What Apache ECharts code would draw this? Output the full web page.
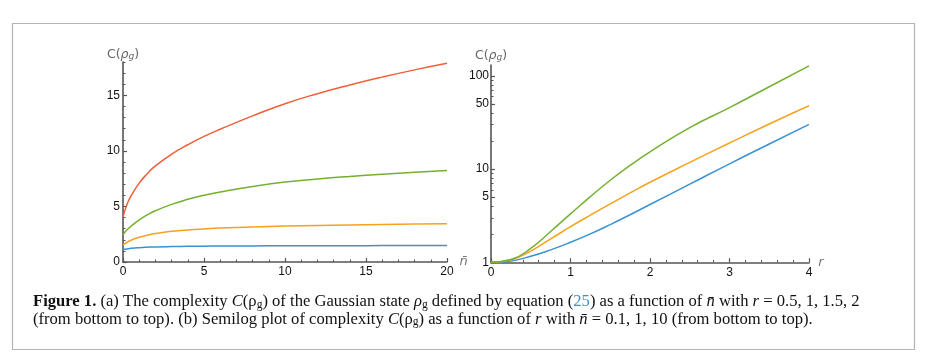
<!DOCTYPE html>
<html>
<head>
<meta charset="utf-8">
<script src="https://cdn.jsdelivr.net/npm/echarts@6/dist/echarts.min.js"></script>
<style>
html,body{margin:0;padding:0;background:#fff;}
#chart{width:929px;height:360px;}
</style>
</head>
<body>
<div id="chart"></div>
<script>
// ---- Panel (a): C vs n-bar, r = 0.5, 1, 1.5, 2 ----
const nbar = [0, 0.25, 0.5, 1, 1.5, 2, 3, 4, 5, 6, 8, 10, 12, 14, 16, 18, 20];
const a_r05 = [1.12, 1.18, 1.23, 1.29, 1.33, 1.36, 1.39, 1.41, 1.425, 1.435, 1.45, 1.46, 1.466, 1.47, 1.474, 1.477, 1.48];
const a_r10 = [1.55, 1.78, 1.96, 2.22, 2.41, 2.56, 2.76, 2.89, 2.98, 3.05, 3.15, 3.23, 3.29, 3.34, 3.38, 3.41, 3.44];
const a_r15 = [2.45, 2.9, 3.22, 3.8, 4.24, 4.61, 5.19, 5.64, 6.0, 6.3, 6.8, 7.2, 7.47, 7.7, 7.9, 8.07, 8.23];
const a_r20 = [4.05, 5.2, 5.95, 7.1, 7.95, 8.65, 9.7, 10.55, 11.3, 11.95, 13.15, 14.25, 15.15, 15.93, 16.64, 17.29, 17.88];
const a_xTicks = [0, 5, 10, 15, 20];
const a_yTicks = [0, 5, 10, 15];

// ---- Panel (b): C vs r (semilog), n-bar = 0.1, 1, 10 ----
const rVals = [0, 0.25, 0.5, 0.75, 1, 1.25, 1.5, 1.75, 2, 2.5, 3, 3.5, 4];
const b_n01 = [1.0, 1.035, 1.16, 1.36, 1.64, 2.02, 2.54, 3.24, 4.17, 6.89, 11.4, 18.6, 30.2];
const b_n1  = [1.0, 1.06, 1.32, 1.78, 2.41, 3.21, 4.24, 5.55, 7.23, 11.8, 19.05, 30.5, 47.8];
const b_n10 = [1.0, 1.07, 1.41, 2.14, 3.31, 5.07, 7.59, 10.96, 15.3, 27.9, 45.7, 76.6, 128];
const b_xTicks = [0, 1, 2, 3, 4];
const b_yTicks = [1, 5, 10, 50, 100];
const b_yMinor = [2, 3, 4, 6, 7, 8, 9, 20, 30, 40, 60, 70, 80, 90];

const COL = {blue:'#3a92d2', orange:'#f5a21e', green:'#74b12f', red:'#ee5f3a'};
const AX = '#555555';
const LBL = {color:'#111', fontFamily:'Liberation Sans, Arial, sans-serif', fontSize:12};
const nameRich = {
  a:{fontFamily:'DejaVu Sans, sans-serif', fontSize:12.5, color:'#666'},
  p:{fontFamily:'DejaVu Sans, sans-serif', fontSize:12.5, color:'#666', fontStyle:'italic'},
  s:{fontFamily:'DejaVu Sans, sans-serif', fontSize:9, color:'#666', fontStyle:'italic', verticalAlign:'bottom', lineHeight:10}
};
const cName = '{a|C(}{p|ρ}{s|g}{a|)}';

function zip(xs, ys){ return xs.map((x,i)=>[x, ys[i]]); }
function line(data, color, xi, yi){
  return {type:'line', data, xAxisIndex:xi, yAxisIndex:yi, showSymbol:false, smooth:0.5,
    lineStyle:{color, width:1.5}, itemStyle:{color}, animation:false, z:2};
}

const chart = echarts.init(document.getElementById('chart'), null, {renderer:'canvas'});
const option = {
  animation:false,
  backgroundColor:'#fff',
  grid:[
    {left:123, top:62, width:324, height:200},
    {left:491, top:65, width:318, height:197.3}
  ],
  xAxis:[
    {type:'value', gridIndex:0, min:0, max:20, position:'bottom',
     axisLine:{show:true, onZero:false, lineStyle:{color:AX, width:1.6}},
     axisTick:{show:true, inside:true, length:4, customValues:a_xTicks, lineStyle:{color:AX, width:1.2}},
     axisLabel:{show:true, customValues:a_xTicks, margin:4, ...LBL},
     splitLine:{show:false},
     name:'n\u0304', nameLocation:'end', nameGap:12,
     nameTextStyle:{color:'#777', fontFamily:'DejaVu Sans, sans-serif', fontStyle:'italic', fontSize:13, align:'right', padding:[0,0,6,0]}},
    {type:'value', gridIndex:0, min:0, max:20, interval:1, position:'bottom',
     axisLine:{show:false}, axisTick:{show:true, inside:true, length:2.5, lineStyle:{color:AX, width:1}},
     axisLabel:{show:false}, splitLine:{show:false}},
    {type:'value', gridIndex:1, min:0, max:4, position:'bottom',
     axisLine:{show:true, onZero:false, lineStyle:{color:AX, width:1.6}},
     axisTick:{show:true, inside:true, length:4, customValues:b_xTicks, lineStyle:{color:AX, width:1.2}},
     axisLabel:{show:true, customValues:b_xTicks, margin:4, ...LBL},
     splitLine:{show:false},
     name:'r', nameLocation:'end', nameGap:4,
     nameTextStyle:{color:'#777', fontFamily:'DejaVu Sans, sans-serif', fontStyle:'italic', fontSize:13, padding:[0,0,8,0]}},
    {type:'value', gridIndex:1, min:0, max:4, interval:0.2, position:'bottom',
     axisLine:{show:false}, axisTick:{show:true, inside:true, length:2.5, lineStyle:{color:AX, width:1}},
     axisLabel:{show:false}, splitLine:{show:false}}
  ],
  yAxis:[
    {type:'value', gridIndex:0, min:0, max:18, position:'left',
     axisLine:{show:true, onZero:false, lineStyle:{color:AX, width:1.6}},
     axisTick:{show:true, inside:true, length:4, customValues:a_yTicks, lineStyle:{color:AX, width:1.2}},
     axisLabel:{show:true, customValues:a_yTicks, margin:3, ...LBL},
     splitLine:{show:false},
     name:cName, nameLocation:'end', nameGap:1, nameTextStyle:{rich:nameRich, align:'center'}},
    {type:'value', gridIndex:0, min:0, max:18, interval:1, position:'left',
     axisLine:{show:false}, axisTick:{show:true, inside:true, length:2.5, lineStyle:{color:AX, width:1}},
     axisLabel:{show:false}, splitLine:{show:false}},
    {type:'log', logBase:10, gridIndex:1, min:1, max:131, position:'left',
     axisLine:{show:true, onZero:false, lineStyle:{color:AX, width:1.6}},
     axisTick:{show:true, inside:true, length:4, customValues:b_yTicks, lineStyle:{color:AX, width:1.2}},
     axisLabel:{show:true, customValues:b_yTicks, margin:2, ...LBL},
     splitLine:{show:false},
     name:cName, nameLocation:'end', nameGap:3, nameTextStyle:{rich:nameRich, align:'center'}},
    {type:'log', logBase:10, gridIndex:1, min:1, max:131, position:'left',
     axisLine:{show:false}, axisTick:{show:true, inside:true, length:2.5, customValues:b_yMinor, lineStyle:{color:AX, width:1}},
     axisLabel:{show:false}, splitLine:{show:false}}
  ],
  series:[
    line(zip(nbar, a_r05), COL.blue, 0, 0),
    line(zip(nbar, a_r10), COL.orange, 0, 0),
    line(zip(nbar, a_r15), COL.green, 0, 0),
    line(zip(nbar, a_r20), COL.red, 0, 0),
    line(zip(rVals, b_n01), COL.blue, 2, 2),
    line(zip(rVals, b_n1), COL.orange, 2, 2),
    line(zip(rVals, b_n10), COL.green, 2, 2)
  ],
  graphic:[
    {type:'rect', silent:true, z:-10, shape:{x:12.5, y:23.5, width:902, height:326},
     style:{fill:'none', stroke:'#b3b3b3', lineWidth:1.2}},
    {type:'text', x:33, y:293, silent:true,
     style:{
       text:'{b|Figure 1.} (a) The complexity {i|C}(ρ{sub|g}) of the Gaussian state {i|ρ}{sub|g} defined by equation ({lk|25}) as a function of {i|n\u0304} with {i|r} = 0.5, 1, 1.5, 2\n' +
            '(from bottom to top). (b) Semilog plot of complexity {i|C}(ρ{sub|g}) as a function of {i|r} with {i|n\u0304} = 0.1, 1, 10 (from bottom to top).',
       fontFamily:'Liberation Serif, serif', fontSize:16.6, fill:'#111', lineHeight:17.5,
       rich:{
         b:{fontFamily:'Liberation Serif, serif', fontSize:16.6, fontWeight:'bold', fill:'#111', lineHeight:17.5},
         i:{fontFamily:'Liberation Serif, serif', fontSize:16.6, fontStyle:'italic', fill:'#111', lineHeight:17.5},
         lk:{fontFamily:'Liberation Serif, serif', fontSize:16.6, fill:'#3b8fd0', lineHeight:17.5},
         sub:{fontFamily:'Liberation Serif, serif', fontSize:11.5, fill:'#111', lineHeight:11, verticalAlign:'bottom'}
       }
     }}
  ]
};
chart.setOption(option);
</script>
</body>
</html>
